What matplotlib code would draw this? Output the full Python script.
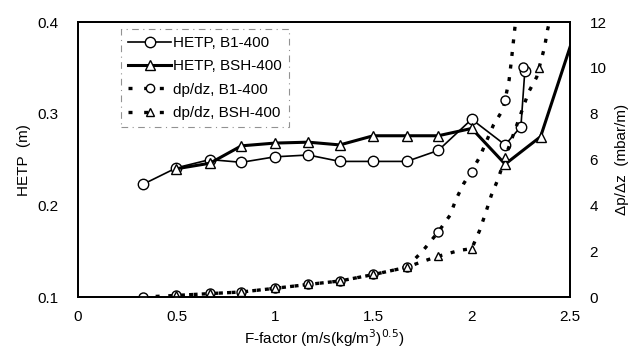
import matplotlib
matplotlib.use("Agg")
import matplotlib.pyplot as plt
from matplotlib.lines import Line2D

plt.rcParams["font.family"] = ["Liberation Sans", "DejaVu Sans"]

# HETP data (left axis)
hetp_b1_x = [0.33, 0.5, 0.67, 0.83, 1.0, 1.17, 1.33, 1.5, 1.67, 1.83, 2.0, 2.17, 2.25, 2.27]
hetp_b1_y = [0.223, 0.241, 0.250, 0.247, 0.253, 0.255, 0.248, 0.248, 0.248, 0.260, 0.294, 0.266, 0.286, 0.347]
hetp_bsh_x = [0.5, 0.67, 0.83, 1.0, 1.17, 1.33, 1.5, 1.67, 1.83, 2.0, 2.17, 2.35, 2.5]
hetp_bsh_y = [0.240, 0.246, 0.265, 0.268, 0.269, 0.266, 0.276, 0.276, 0.276, 0.284, 0.245, 0.275, 0.373]

# pressure drop data (right axis)
dp_b1_x = [0.33, 0.5, 0.67, 0.83, 1.0, 1.17, 1.33, 1.5, 1.67, 1.83, 2.0, 2.17, 2.26]
dp_b1_y = [0.0, 0.07, 0.17, 0.22, 0.39, 0.58, 0.69, 0.99, 1.31, 2.84, 5.46, 8.62, 10.05]
dp_bsh_x = [0.5, 0.67, 0.83, 1.0, 1.17, 1.33, 1.5, 1.67, 1.83, 2.0, 2.17, 2.34]
dp_bsh_y = [0.07, 0.17, 0.22, 0.39, 0.58, 0.69, 0.99, 1.31, 1.78, 2.11, 6.1, 9.98]

# dotted trend curves as drawn in the figure
trend_b1_x = [0.33, 0.5, 0.67, 0.83, 1.0, 1.17, 1.33, 1.5, 1.67, 1.75, 1.83, 1.89, 1.92, 1.96, 2.0,
              2.04, 2.11, 2.16, 2.19, 2.20, 2.21, 2.22, 2.23]
trend_b1_y = [0.0, 0.07, 0.15, 0.22, 0.38, 0.55, 0.7, 0.98, 1.3, 2.0, 2.84, 3.57, 4.26, 4.96, 5.5,
              6.1, 7.5, 8.2, 9.47, 10.2, 11.0, 11.8, 12.2]
trend_bsh_x = [0.5, 0.67, 0.83, 1.0, 1.17, 1.33, 1.5, 1.67, 1.75, 1.83, 1.94, 2.0, 2.04, 2.07, 2.10,
               2.135, 2.17, 2.29, 2.33, 2.37, 2.385, 2.40]
trend_bsh_y = [0.07, 0.15, 0.22, 0.38, 0.55, 0.7, 0.98, 1.3, 1.55, 1.78, 2.04, 2.11, 2.9, 3.65, 4.45,
               5.17, 6.1, 8.96, 9.6, 10.9, 11.65, 12.2]

fig = plt.figure(figsize=(6.37, 3.57), dpi=100)
ax = fig.add_axes([0.1225, 0.168, 0.7725, 0.77])
ax2 = ax.twinx()

dot = (0, (1.2, 2.6))
mk = dict(markerfacecolor="white", markeredgecolor="black", markeredgewidth=1.0)

ax.plot(hetp_b1_x, hetp_b1_y, color="black", lw=1.2, marker="o", ms=7.5, zorder=3, **mk)
ax.plot(hetp_bsh_x, hetp_bsh_y, color="black", lw=2.2, marker="^", ms=6.5,
        markevery=list(range(len(hetp_bsh_x) - 1)), zorder=3, **mk)

ax2.plot(trend_b1_x, trend_b1_y, color="black", lw=2.4, ls=dot)
ax2.plot(trend_bsh_x, trend_bsh_y, color="black", lw=2.4, ls=dot)
ax2.plot(dp_b1_x, dp_b1_y, ls="none", marker="o", ms=6.5, **mk)
ax2.plot(dp_bsh_x, dp_bsh_y, ls="none", marker="^", ms=6, **mk)

ax.set_xlim(0, 2.5)
ax.set_ylim(0.1, 0.4)
ax2.set_ylim(0, 12)
ax.set_xticks([0, 0.5, 1, 1.5, 2, 2.5])
ax.set_xticklabels(["0", "0.5", "1", "1.5", "2", "2.5"])
ax.set_yticks([0.1, 0.2, 0.3, 0.4])
ax2.set_yticks([0, 2, 4, 6, 8, 10, 12])

for a in (ax, ax2):
    a.tick_params(length=0, labelsize=11, pad=9)
    for s in a.spines.values():
        s.set_linewidth(1.3)
ax.tick_params(axis="y", pad=14)
ax2.tick_params(axis="y", pad=14)

ax.set_xlabel("F-factor (m/s(kg/m$^3$)$^{0.5}$)", fontsize=11, labelpad=3)
ax.set_ylabel("HETP  (m)", fontsize=11, labelpad=5)
ax2.set_ylabel("\u0394p/\u0394z  (mbar/m)", fontsize=11, labelpad=6)

handles = [
    Line2D([], [], color="black", lw=1.2, marker="o", ms=7.5, **mk),
    Line2D([], [], color="black", lw=2.2, marker="^", ms=6.5, **mk),
    Line2D([], [], color="black", lw=2.4, ls=(0, (1.2, 3.5)), marker="o", ms=6, **mk),
    Line2D([], [], color="black", lw=2.4, ls=(0, (1.2, 3.5)), marker="^", ms=6, **mk),
]
labels = ["HETP, B1-400", "HETP, BSH-400", "dp/dz, B1-400", "dp/dz, BSH-400"]
leg = ax2.legend(handles, labels, loc="upper left", bbox_to_anchor=(0.088, 0.975),
                 fontsize=11, handlelength=2.8, handletextpad=0.15, labelspacing=0.62,
                 frameon=True, fancybox=False, borderpad=0.45, borderaxespad=0.0)
leg.get_frame().set_edgecolor("#777777")
leg.get_frame().set_linestyle((0, (6, 4, 1, 4)))
leg.get_frame().set_linewidth(0.8)

fig.savefig("out.png", dpi=100)
